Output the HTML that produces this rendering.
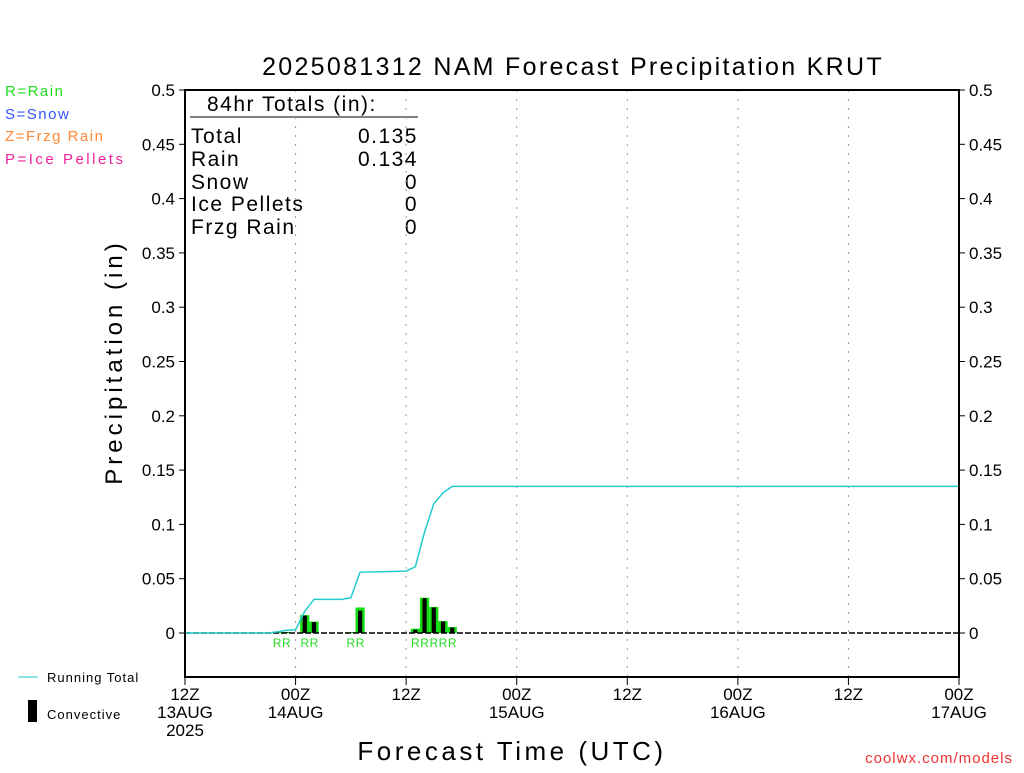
<!DOCTYPE html>
<html><head><meta charset="utf-8"><style>
body{margin:0;background:#fff;}
svg text{font-family:"Liberation Sans",sans-serif;}
</style></head><body>
<svg id="chart" width="1024" height="768" xmlns="http://www.w3.org/2000/svg">
<rect width="1024" height="768" fill="#fff"/>
<text x="573" y="75" font-size="25" text-anchor="middle" fill="#000" letter-spacing="2.3">2025081312 NAM Forecast Precipitation KRUT</text>
<text x="5" y="96" font-size="15" fill="#22dd22" letter-spacing="1.5">R=Rain</text>
<text x="5" y="119" font-size="15" fill="#3355ff" letter-spacing="1.5">S=Snow</text>
<text x="5" y="141" font-size="15" fill="#ff8833" letter-spacing="1.5">Z=Frzg Rain</text>
<text x="5" y="164" font-size="15" fill="#ee2299" letter-spacing="2.5">P=Ice Pellets</text>
<text transform="translate(122,362) rotate(-90)" font-size="24" text-anchor="middle" letter-spacing="4">Precipitation (in)</text>
<text x="512" y="760" font-size="26" text-anchor="middle" letter-spacing="3.5">Forecast Time (UTC)</text>
<text x="1013" y="763" font-size="15" text-anchor="end" fill="#ee3333" letter-spacing="1">coolwx.com/models</text>
<line x1="18" y1="677" x2="38" y2="677" stroke="#22cccc" stroke-width="1"/>
<text x="47" y="682" font-size="13" letter-spacing="1">Running Total</text>
<rect x="28" y="700" width="9" height="22" fill="#000"/>
<text x="47" y="719" font-size="13" letter-spacing="1">Convective</text>
<g font-size="21" letter-spacing="1.5">
<text x="207" y="111">84hr Totals (in):</text>
<line x1="190" y1="117" x2="418" y2="117" stroke="#000"/>
<text x="191" y="143">Total</text><text x="418" y="143" text-anchor="end">0.135</text>
<text x="191" y="166">Rain</text><text x="418" y="166" text-anchor="end">0.134</text>
<text x="191" y="189">Snow</text><text x="418" y="189" text-anchor="end">0</text>
<text x="191" y="211">Ice Pellets</text><text x="418" y="211" text-anchor="end">0</text>
<text x="191" y="234">Frzg Rain</text><text x="418" y="234" text-anchor="end">0</text>
</g>
<g id="grid"></g><g id="marks"></g><g id="axes"></g>
</svg>
<script>
const yTicks=[0,0.05,0.1,0.15,0.2,0.25,0.3,0.35,0.4,0.45,0.5];
const yTickLabels=["0","0.05","0.1","0.15","0.2","0.25","0.3","0.35","0.4","0.45","0.5"];
const xTickHours=[0,12,24,36,48,60,72,84];
const xTickLabels=[["12Z","13AUG","2025"],["00Z","14AUG"],["12Z"],["00Z","15AUG"],["12Z"],["00Z","16AUG"],["12Z"],["00Z","17AUG"]];
const barHours=[10,11,13,14,18,19,25,26,27,28,29];
const barTotal=[0.0008,0.0010,0.0165,0.0105,0.0008,0.0235,0.0040,0.0325,0.0240,0.0110,0.0055];
const barConv=[0.0005,0.0006,0.0160,0.0100,0.0004,0.0205,0.0030,0.0320,0.0235,0.0105,0.0050];
const barType=["R","R","R","R","R","R","R","R","R","R","R"];
const runHours=[0,9,10,11,12,13,14,17,18,19,24,25,26,27,28,29,84];
const runTotal=[0,0,0.001,0.0025,0.003,0.02,0.031,0.031,0.0325,0.056,0.057,0.061,0.093,0.119,0.129,0.135,0.135];
const NS="http://www.w3.org/2000/svg";
const X0=185,X1=959,Y0=633,YTOP=90,YBOT=677;
const x=h=>X0+h*(X1-X0)/84;
const y=v=>Y0-v*(Y0-YTOP)/0.5;
function mk(tag,attrs,parent,txt){const e=document.createElementNS(NS,tag);for(const k in attrs)e.setAttribute(k,attrs[k]);if(txt!==undefined)e.textContent=txt;document.getElementById(parent).appendChild(e);return e;}
xTickHours.forEach((h,i)=>{
  if(h>0&&h<84){const g=mk('line',{x1:x(h),y1:YTOP,x2:x(h),y2:YBOT,stroke:'#999','stroke-dasharray':'2,7'},'grid');
  
  }
  const t=mk('line',{x1:x(h),y1:YBOT,x2:x(h),y2:YBOT+8,stroke:'#000'},'axes');
  
  
  xTickLabels[i].forEach((s,j)=>{const l=mk('text',{x:x(h),y:700+j*18,'font-size':17,'text-anchor':'middle'},'axes',s);
  
  });
});
yTicks.forEach((v,i)=>{
  const a=mk('line',{x1:X0-6,y1:y(v),x2:X0,y2:y(v),stroke:'#000'},'axes');
  
  
  const b=mk('line',{x1:X1,y1:y(v),x2:X1+6,y2:y(v),stroke:'#000'},'axes');
  
  
  const l=mk('text',{x:X0-10,y:y(v)+6,'font-size':17,'text-anchor':'end'},'axes',yTickLabels[i]);
  
  
  const r=mk('text',{x:X1+10,y:y(v)+6,'font-size':17},'axes',yTickLabels[i]);
  
  
});
const bw=(X1-X0)/84;
barHours.forEach((h,i)=>{
  const g=mk('rect',{x:x(h)-bw/2,y:y(barTotal[i]),width:bw,height:Y0-y(barTotal[i]),fill:'#11dd11'},'marks');
  
  
  const c=mk('rect',{x:x(h)-bw/2+2.5,y:y(barConv[i]),width:bw-5,height:Y0-y(barConv[i]),fill:'#000'},'marks');
  
  
  const t=mk('text',{x:x(h),y:647,'font-size':12,'text-anchor':'middle',fill:'#22dd22'},'marks',barType[i]);
  
  
});
const zl=mk('line',{x1:X0,y1:Y0,x2:X1,y2:Y0,stroke:'#000','stroke-dasharray':'6,2','stroke-width':1.5},'marks');


const pl=mk('polyline',{points:runHours.map((h,i)=>x(h)+','+y(runTotal[i])).join(' '),fill:'none',stroke:'#22cccc','stroke-width':1.5},'marks');


const fr=mk('rect',{x:X0,y:YTOP,width:X1-X0,height:YBOT-YTOP,fill:'none',stroke:'#000','stroke-width':2},'axes');


</script>
</body></html>
